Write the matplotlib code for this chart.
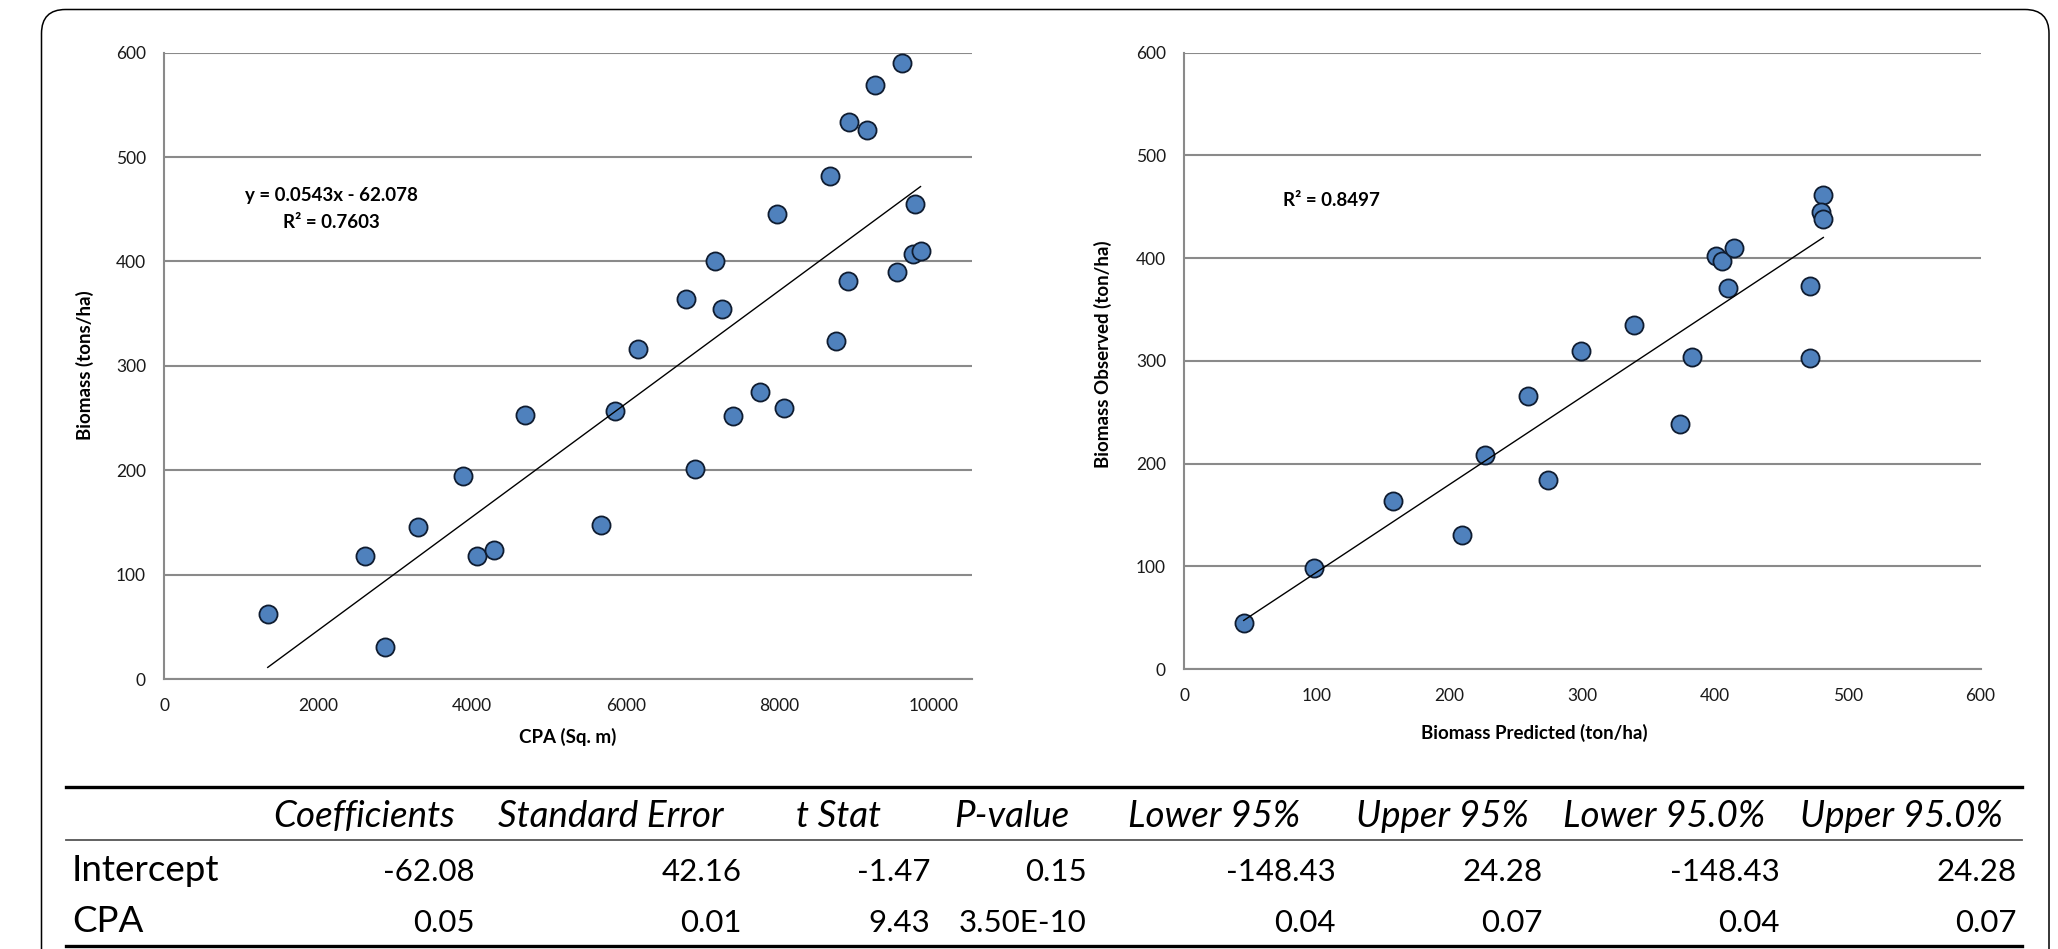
import matplotlib.pyplot as plt
import numpy as np
from matplotlib.patches import FancyBboxPatch

plt.rcParams["font.family"] = ["Lato", "DejaVu Sans"]

# left chart: crown projection area vs biomass
cpa = [1348, 2607, 2876, 3296, 3880, 4067, 4292, 4696, 5685, 5860,
       6164, 6777, 6901, 7154, 7249, 7390, 7744, 7969, 8051, 8659,
       8730, 8896, 8885, 9135, 9236, 9522, 9587, 9730, 9765, 9831]
biomass = [62, 118, 31, 146, 194, 118, 124, 253, 148, 257,
           316, 364, 201, 400, 354, 252, 275, 445, 260, 482,
           324, 534, 381, 526, 569, 390, 590, 407, 455, 410]
slope = 0.0543
intercept = -62.078
r2_left = 0.7603

# right chart: predicted vs observed
predicted = [45, 98, 157.5, 209.5, 227, 259.5, 274, 299, 339, 374,
             383, 401, 405, 414, 409.5, 471.3, 471.8, 481.6, 479.8, 481.6]
observed = [44.5, 98.7, 163.6, 130.5, 208.4, 266, 184, 310, 335, 239,
            304, 401.6, 397.4, 409.4, 370.5, 373, 302.3, 461.7, 444.8, 438.3]
r2_right = 0.8497

# regression table
col_names = ["Coefficients", "Standard Error", "t Stat", "P-value",
             "Lower 95%", "Upper 95%", "Lower 95.0%", "Upper 95.0%"]
row_names = ["Intercept", "CPA"]
intercept_row = ["-62.08", "42.16", "-1.47", "0.15", "-148.43", "24.28", "-148.43", "24.28"]
cpa_row = ["0.05", "0.01", "9.43", "3.50E-10", "0.04", "0.07", "0.04", "0.07"]

W, H = 2058, 949
GRID = "#8a8a8a"
FILL = "#4f81bd"
EDGE = "#0f1c30"

fig = plt.figure(figsize=(W / 100, H / 100), dpi=100)

# overlay in pixel coordinates for frame and table
bg = fig.add_axes([0, 0, 1, 1])
bg.set_xlim(0, W)
bg.set_ylim(H, 0)
bg.axis("off")
bg.add_patch(FancyBboxPatch((41.5, 9.5), 2007.5, 1100,
                            boxstyle="round,pad=0,rounding_size=24",
                            fc="none", ec="black", lw=1.1))


def px_axes(left, top, right, bottom):
    return fig.add_axes([left / W, 1 - bottom / H, (right - left) / W, (bottom - top) / H])


def style(ax, xmax, xticks):
    ax.set_xlim(0, xmax)
    ax.set_ylim(0, 600)
    ax.set_xticks(xticks)
    ax.set_yticks(range(0, 601, 100))
    ax.grid(axis="y", color=GRID, lw=1.5)
    ax.set_axisbelow(True)
    for s in ["top", "right"]:
        ax.spines[s].set_visible(False)
    for s in ["left", "bottom"]:
        ax.spines[s].set_color(GRID)
        ax.spines[s].set_linewidth(1.5)
    ax.tick_params(axis="both", length=0, labelsize=12.5, colors="#1a1a1a")
    ax.tick_params(axis="x", pad=14)
    ax.tick_params(axis="y", pad=13)


# left chart
ax1 = px_axes(164, 52.7, 972, 679)
style(ax1, 10500, range(0, 10001, 2000))
ax1.scatter(cpa, biomass, s=170, c=FILL, edgecolors=EDGE, linewidths=1.3, zorder=3, clip_on=False)
xl = np.array([min(cpa), max(cpa)])
ax1.plot(xl, slope * xl + intercept, color="black", lw=1.0, zorder=4)
fig.text(331 / W, 1 - 196 / H, f"y = {slope}x - {abs(intercept)}", ha="center", va="center",
         fontsize=13.5, fontweight="bold")
fig.text(331 / W, 1 - 222 / H, f"R² = {r2_left}", ha="center", va="center",
         fontsize=13.5, fontweight="bold")
fig.text(568 / W, 1 - 737 / H, "CPA (Sq. m)", ha="center", va="center", fontsize=13.5, fontweight="bold")
fig.text(85 / W, 1 - 365 / H, "Biomass (tons/ha)", ha="center", va="center", rotation=90,
         fontsize=13.5, fontweight="bold")

# right chart
ax2 = px_axes(1184, 52.7, 1980.5, 669)
style(ax2, 600, range(0, 601, 100))
ax2.scatter(predicted, observed, s=170, c=FILL, edgecolors=EDGE, linewidths=1.3, zorder=3, clip_on=False)
b1, b0 = np.polyfit(predicted, observed, 1)
xr = np.array([min(predicted), max(predicted)])
ax2.plot(xr, b1 * xr + b0, color="black", lw=1.0, zorder=4)
fig.text(1331 / W, 1 - 201 / H, f"R² = {r2_right}", ha="center", va="center",
         fontsize=13.5, fontweight="bold")
fig.text(1534 / W, 1 - 733 / H, "Biomass Predicted (ton/ha)", ha="center", va="center",
         fontsize=13.5, fontweight="bold")
fig.text(1103 / W, 1 - 354 / H, "Biomass Observed (ton/ha)", ha="center", va="center", rotation=90,
         fontsize=13.5, fontweight="bold")

# table
edges = [66, 247, 475, 741.5, 930.4, 1086.6, 1336, 1543, 1779.5, 2017]
bg.plot([66, 2022], [786.7, 786.7], color="black", lw=2.4)
bg.plot([66, 2022], [840, 840], color="#555555", lw=1.3)
bg.plot([66, 2022], [945.5, 945.5], color="black", lw=2.4)
for i, name in enumerate(col_names):
    bg.text((edges[i + 1] + edges[i + 2]) / 2 + 3, 827, name, ha="center", va="baseline",
            fontsize=26.5, style="italic")
for y, name, row in [(881, row_names[0], intercept_row), (932.5, row_names[1], cpa_row)]:
    bg.text(72, y, name, ha="left", va="baseline", fontsize=26.5)
    for i, val in enumerate(row):
        bg.text(edges[i + 2], y, val, ha="right", va="baseline", fontsize=22.5)

fig.savefig("out.png", dpi=100)
